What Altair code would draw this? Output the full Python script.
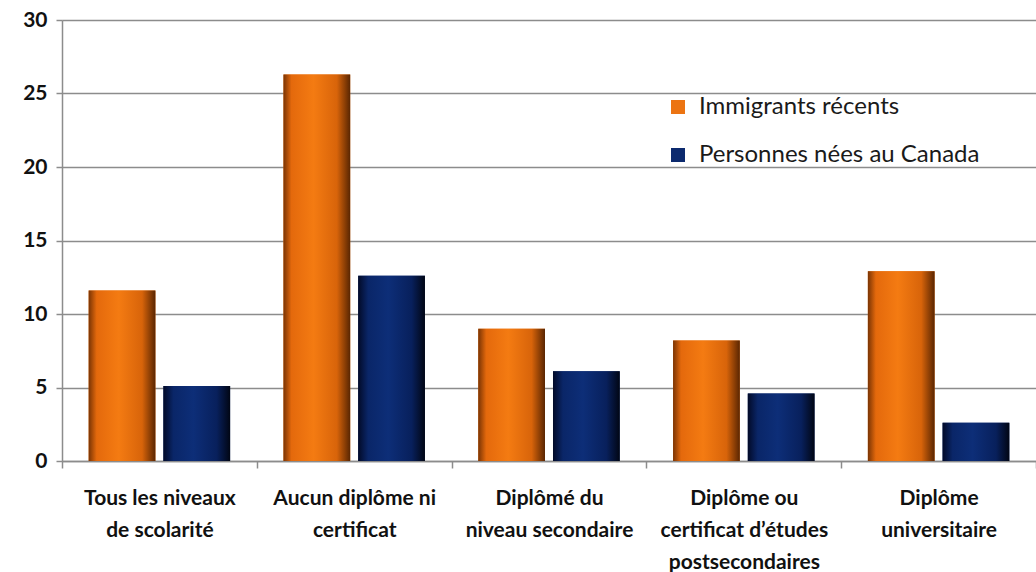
import altair as alt
import pandas as pd

categories = [
    "Tous les niveaux|de scolarité",
    "Aucun diplôme  ni|certificat",
    "Diplômé du|niveau secondaire",
    "Diplôme ou|certificat d’études|postsecondaires",
    "Diplôme|universitaire",
]
series = ["Immigrants  récents", "Personnes nées au Canada"]
immigrants = [11.6, 26.3, 9.0, 8.2, 12.9]
canadiens = [5.1, 12.6, 6.1, 4.6, 2.6]
colors = ["#ec7412", "#0c2a6e"]
y_ticks = [0, 5, 10, 15, 20, 25, 30]

rows = []
for c, a, b in zip(categories, immigrants, canadiens):
    rows.append({"cat": c, "serie": series[0], "val": a})
    rows.append({"cat": c, "serie": series[1], "val": b})
df = pd.DataFrame(rows)

FONT = "Lato"

x_enc = alt.X(
    "cat:N",
    sort=categories,
    scale=alt.Scale(domain=categories, paddingInner=0, paddingOuter=0),
    axis=alt.Axis(
        title=None,
        labelAngle=0,
        labelExpr="split(datum.label, '|')",
        tickBand="extent",
        labelFont=FONT,
        labelFontSize=21,
        labelFontWeight="bold",
        labelColor="#111111",
        labelPadding=19,
        labelLineHeight=32,
        labelBaseline="top",
        labelLimit=300,
        domainColor="#8c8c8c",
        domainWidth=1.5,
        tickColor="#8c8c8c",
        tickWidth=1.5,
        tickSize=7,
        grid=False,
    ),
)
xo_enc = alt.XOffset(
    "serie:N",
    scale=alt.Scale(domain=series, paddingInner=0.107, paddingOuter=0.357),
)
y_enc = alt.Y(
    "val:Q",
    scale=alt.Scale(domain=[0, 30], nice=False),
    axis=alt.Axis(
        title=None,
        values=y_ticks,
        labelFont=FONT,
        labelFontSize=21,
        labelFontWeight="bold",
        labelColor="#111111",
        labelPadding=9,
        domainColor="#8c8c8c",
        domainWidth=1.5,
        tickColor="#8c8c8c",
        tickWidth=1.5,
        tickSize=6,
        gridColor="#8c8c8c",
        gridWidth=1.5,
    ),
)

base = alt.Chart(df).encode(x=x_enc, xOffset=xo_enc, y=y_enc)

legend_layer = base.mark_bar().encode(
    color=alt.Color(
        "serie:N",
        scale=alt.Scale(domain=series, range=colors),
        legend=alt.Legend(
            title=None,
            orient="none",
            legendX=604,
            legendY=75,
            symbolType="square",
            symbolSize=196,
            symbolStrokeWidth=0,
            labelFont=FONT,
            labelFontSize=24,
            labelColor="#1a1a1a",
            labelOffset=9,
            rowPadding=24,
            labelLimit=400,
        ),
    )
)

orange_grad = alt.Gradient(
    gradient="linear",
    x1=0, x2=1, y1=0, y2=0,
    stops=[
        alt.GradientStop(color="#7a3404", offset=0),
        alt.GradientStop(color="#e4690c", offset=0.12),
        alt.GradientStop(color="#f47b12", offset=0.45),
        alt.GradientStop(color="#d8640a", offset=0.8),
        alt.GradientStop(color="#5a2602", offset=1),
    ],
)
navy_grad = alt.Gradient(
    gradient="linear",
    x1=0, x2=1, y1=0, y2=0,
    stops=[
        alt.GradientStop(color="#020a28", offset=0),
        alt.GradientStop(color="#0a2668", offset=0.15),
        alt.GradientStop(color="#0d2e78", offset=0.45),
        alt.GradientStop(color="#08205c", offset=0.8),
        alt.GradientStop(color="#010614", offset=1),
    ],
)

orange_layer = base.transform_filter(
    alt.datum.serie == series[0]
).mark_bar(color=orange_grad)
navy_layer = base.transform_filter(
    alt.datum.serie == series[1]
).mark_bar(color=navy_grad)

chart = (
    alt.layer(legend_layer, orange_layer, navy_layer)
    .properties(
        width=974,
        height=441,
        autosize=alt.AutoSizeParams(type="none"),
        padding={"left": 62, "top": 20, "right": 0, "bottom": 111},
    )
    .configure_view(stroke=None)
    .configure(background="white")
)

chart.save("out.html", embed_options={"renderer": "svg", "actions": False})
